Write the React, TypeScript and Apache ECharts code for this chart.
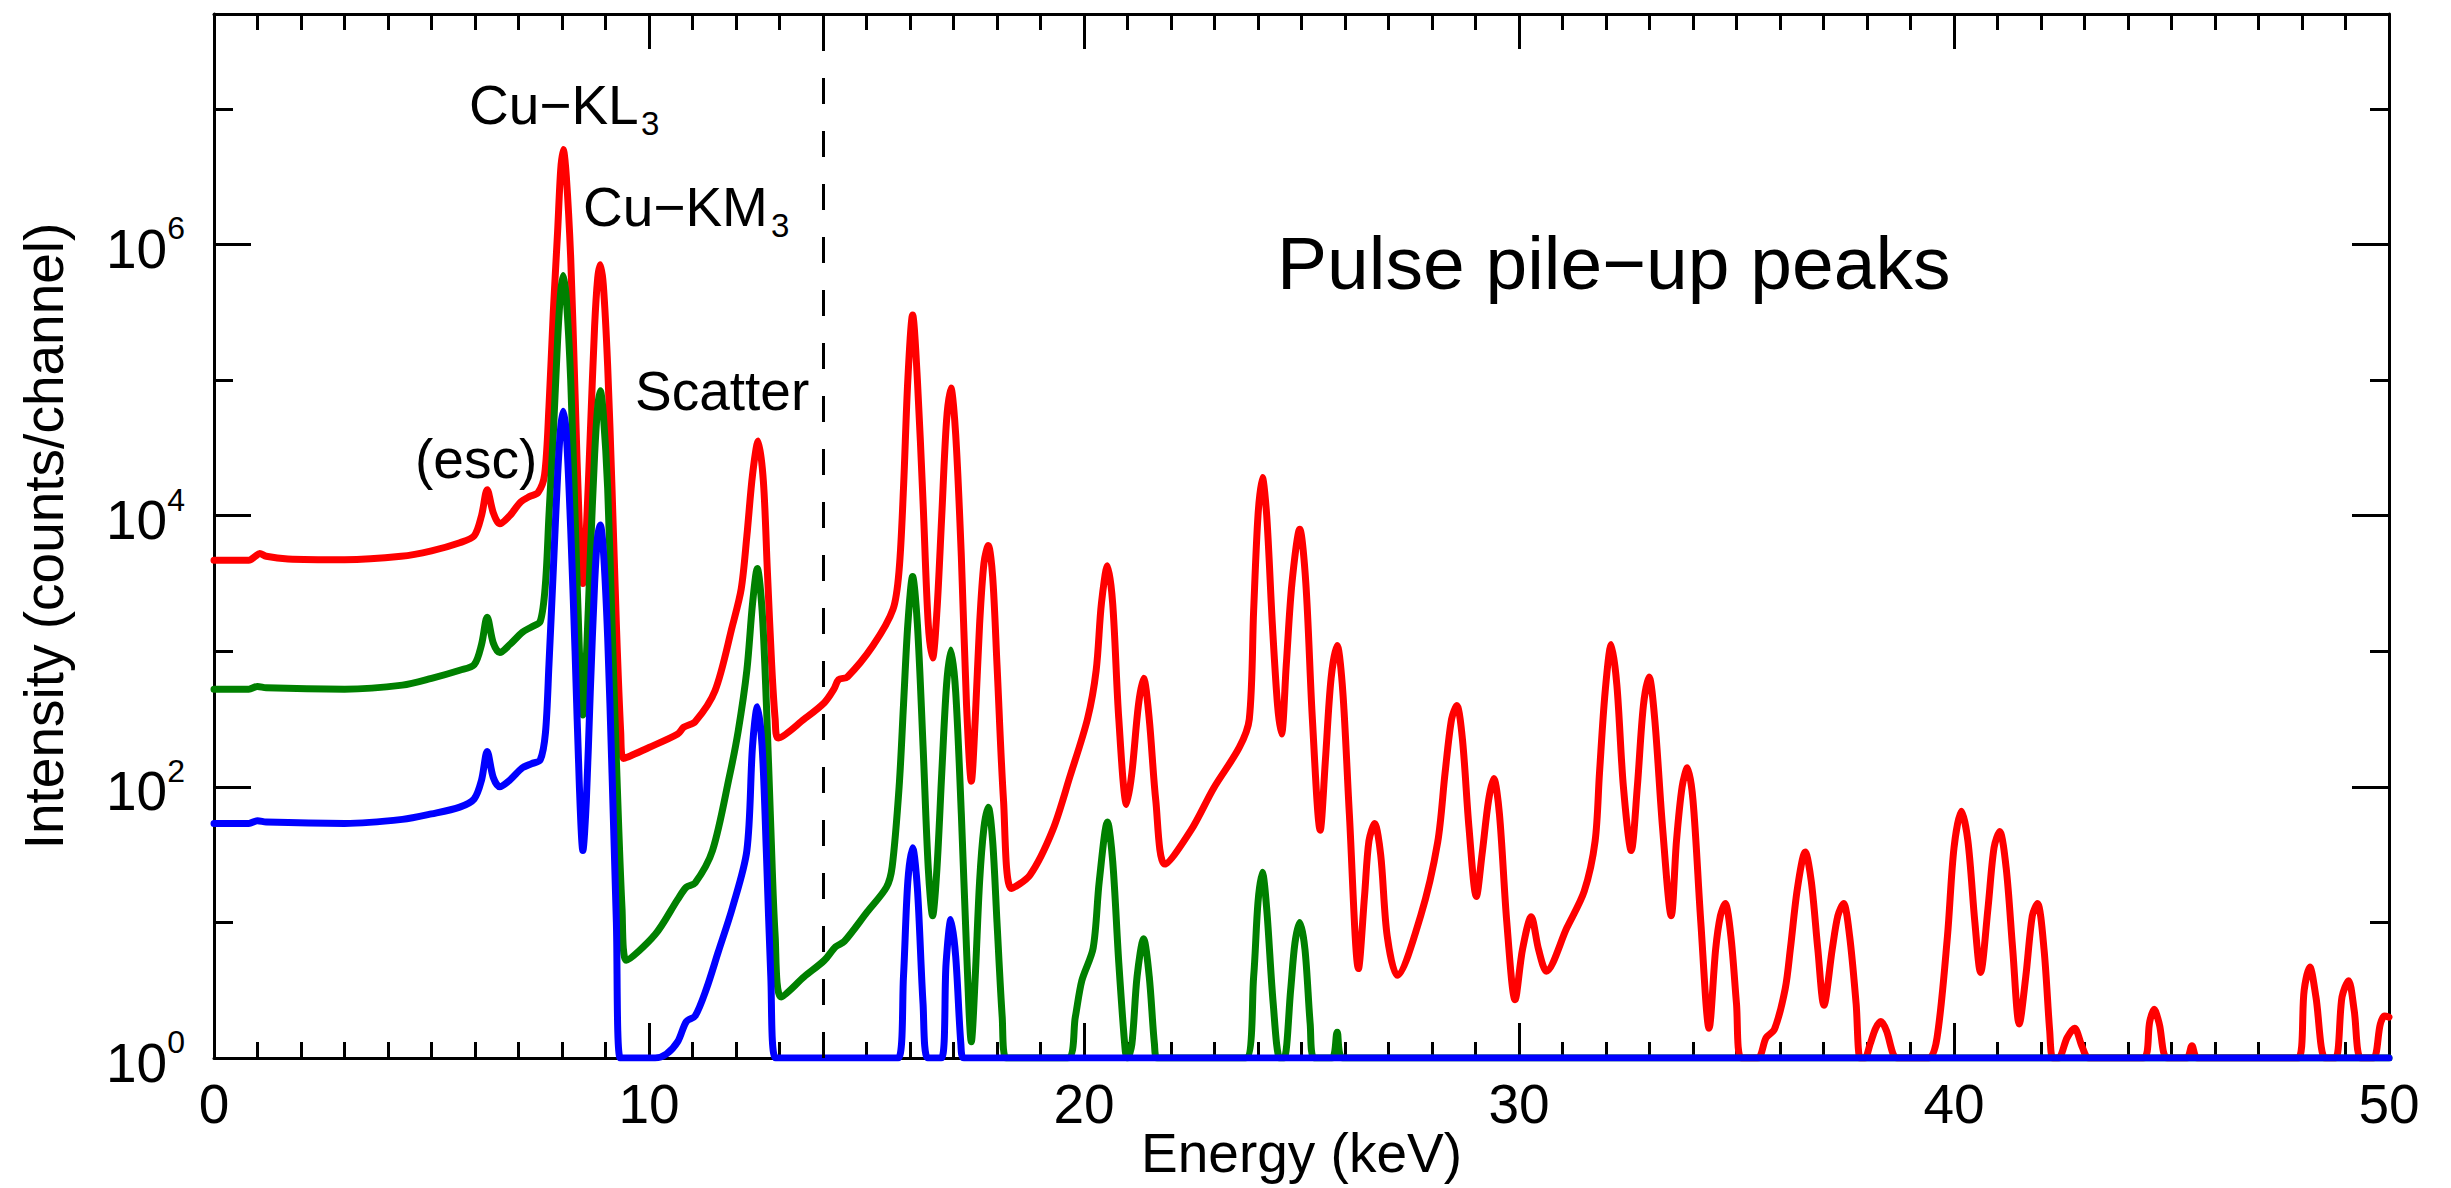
import React, { useEffect, useRef } from 'react';
import * as echarts from 'echarts';

// ---------- axes ----------
const X_MIN = 0;
const X_MAX = 50;
const X_STEP = 10;
const Y_MIN = 1;
const Y_MAX = 5e7;
const Y_LABEL_EXPONENTS = [0, 2, 4, 6];
const DASHED_LINE_KEV = 14;

// ---------- spectra: [energy keV, counts/channel] ----------
const redSpectrum: [number, number][] = [
  [0, 4680], [0.8, 4680], [0.95, 5010], [1.05, 5250], [1.2, 5010], [1.7, 4790], [3.0, 4730], [4.3, 5010],
  [5.0, 5500], [5.65, 6310], [5.98, 7080], [6.15, 10000], [6.28, 15500], [6.42, 10500], [6.57, 8710],
  [6.8, 10000], [7.05, 12600], [7.25, 13800], [7.45, 14800], [7.6, 20000], [7.7, 63100], [7.8, 316000],
  [7.9, 1.26e6], [7.97, 3.55e6], [8.03, 5.0e6], [8.1, 3.16e6], [8.2, 7.94e5], [8.3, 7.94e4], [8.4, 7940],
  [8.48, 3160], [8.56, 7940], [8.65, 39800], [8.75, 251000], [8.82, 562000], [8.88, 708000], [8.95, 501000],
  [9.05, 126000], [9.15, 15800], [9.25, 1580], [9.35, 251], [9.41, 162], [10.0, 195], [10.66, 245],
  [10.8, 275], [11.06, 302], [11.52, 513], [11.92, 1550], [12.12, 2880], [12.25, 7080], [12.38, 20000],
  [12.51, 35500], [12.63, 17800], [12.72, 3980], [12.82, 794], [12.9, 316], [12.97, 229], [13.57, 316],
  [14.03, 417], [14.25, 525], [14.36, 617], [14.56, 646], [15.15, 1100], [15.61, 2040], [15.75, 3980],
  [15.85, 15800], [15.95, 100000], [16.06, 302000], [16.17, 100000], [16.3, 12600], [16.42, 1580],
  [16.52, 891], [16.62, 2000], [16.73, 10000], [16.84, 50100], [16.94, 87100], [17.05, 39800],
  [17.18, 5010], [17.3, 398], [17.41, 110], [17.5, 316], [17.6, 1580], [17.7, 4470], [17.8, 6030],
  [17.9, 3550], [18.0, 794], [18.15, 79.4], [18.33, 17.8], [18.76, 22.4], [19.28, 47.9], [19.68, 120],
  [20.08, 316], [20.28, 724], [20.4, 2240], [20.54, 4270], [20.66, 2240], [20.8, 316], [20.98, 74.1],
  [21.1, 126], [21.25, 398], [21.37, 631], [21.5, 316], [21.65, 79.4], [21.86, 26.9], [22.46, 47.9],
  [22.98, 97.7], [23.57, 195], [23.8, 316], [23.9, 2000], [24.0, 10000], [24.1, 19100], [24.2, 10000],
  [24.33, 1580], [24.45, 398], [24.54, 245], [24.65, 794], [24.78, 3160], [24.96, 7940], [25.1, 3160],
  [25.25, 316], [25.43, 47.9], [25.55, 158], [25.68, 631], [25.82, 1100], [25.95, 501], [26.1, 63.1],
  [26.31, 4.57], [26.45, 15.8], [26.55, 39.8], [26.68, 53.7], [26.82, 31.6], [26.97, 7.94], [27.2, 4.07],
  [27.74, 11.2], [28.13, 38.9], [28.3, 126], [28.45, 316], [28.57, 398], [28.7, 224], [28.85, 50.1],
  [29.02, 15.5], [29.15, 31.6], [29.3, 79.4], [29.42, 115], [29.55, 63.1], [29.72, 10], [29.91, 2.69],
  [30.08, 6.31], [30.28, 11.0], [30.45, 6.31], [30.63, 4.37], [31.1, 9.12], [31.5, 17.0], [31.75, 39.8],
  [31.85, 126], [31.98, 501], [32.12, 1120], [32.25, 562], [32.4, 100], [32.58, 33.9], [32.72, 100],
  [32.86, 398], [32.99, 646], [33.12, 316], [33.3, 50.1], [33.5, 11.2], [33.62, 39.8], [33.75, 100],
  [33.87, 138], [34.0, 79.4], [34.18, 10], [34.37, 1.66], [34.52, 6.31], [34.63, 11.2], [34.74, 13.8],
  [34.87, 7.94], [35.0, 2.51], [35.11, 1], [35.49, 1], [35.68, 1.41], [35.87, 1.62], [36.12, 3.24],
  [36.24, 6.46], [36.4, 17.8], [36.58, 33.1], [36.72, 20.0], [36.87, 6.31], [37.01, 2.45], [37.2, 6.31],
  [37.33, 11.2], [37.46, 13.8], [37.6, 7.94], [37.75, 2.51], [37.84, 1], [37.95, 1], [38.07, 1.26],
  [38.2, 1.66], [38.32, 1.86], [38.45, 1.58], [38.6, 1.07], [38.69, 1], [39.42, 1], [39.61, 1.41],
  [39.85, 7.94], [40.0, 35.5], [40.17, 66.1], [40.32, 39.8], [40.48, 10], [40.61, 4.27], [40.78, 12.6],
  [40.92, 35.5], [41.05, 46.8], [41.2, 25.1], [41.35, 6.31], [41.5, 1.78], [41.65, 3.98], [41.8, 11.2],
  [41.92, 13.8], [42.07, 6.31], [42.2, 1.58], [42.27, 1], [42.4, 1], [42.6, 1.41], [42.77, 1.66],
  [42.95, 1.2], [43.1, 1], [44.35, 1], [44.5, 1.86], [44.6, 2.29], [44.72, 1.78], [44.9, 1], [45.35, 1],
  [45.47, 1.23], [45.6, 1], [47.91, 1], [48.05, 3.16], [48.18, 4.68], [48.32, 2.82], [48.53, 1],
  [48.77, 1], [48.92, 2.82], [49.07, 3.72], [49.2, 2.24], [49.35, 1], [49.64, 1], [49.8, 1.78],
  [49.9, 2.04], [50.0, 2.0],
];

const greenSpectrum: [number, number][] = [
  [0, 525], [0.8, 525], [1.0, 550], [1.2, 537], [3.0, 525], [4.33, 562], [5.0, 631], [5.65, 724],
  [5.98, 794], [6.15, 1120], [6.28, 1780], [6.42, 1150], [6.57, 977], [6.8, 1120], [7.09, 1380],
  [7.3, 1510], [7.5, 1660], [7.62, 3160], [7.7, 10000], [7.8, 39800], [7.9, 200000], [7.97, 447000],
  [8.03, 589000], [8.1, 398000], [8.2, 100000], [8.3, 10000], [8.4, 1000], [8.48, 339], [8.56, 891],
  [8.65, 5010], [8.75, 28200], [8.82, 63100], [8.88, 83200], [8.95, 56200], [9.05, 15800], [9.15, 1580],
  [9.25, 158], [9.38, 12.6], [9.48, 5.25], [10.14, 8.13], [10.66, 14.8], [10.86, 18.2], [11.06, 19.5],
  [11.46, 33.9], [11.85, 120], [12.05, 257], [12.25, 724], [12.38, 2240], [12.49, 4070], [12.6, 2000],
  [12.7, 398], [12.8, 50.1], [12.9, 7.94], [13.04, 2.82], [13.57, 3.98], [14.03, 5.25], [14.29, 6.61],
  [14.49, 7.24], [15.02, 12.0], [15.46, 18.2], [15.59, 25.7], [15.75, 100], [15.85, 398], [15.95, 1580],
  [16.06, 3550], [16.17, 1580], [16.3, 200], [16.42, 25.1], [16.52, 11.2], [16.62, 25.1], [16.73, 126],
  [16.84, 562], [16.94, 1020], [17.05, 501], [17.18, 63.1], [17.3, 6.31], [17.41, 1.32], [17.5, 3.98],
  [17.6, 20.0], [17.7, 50.1], [17.8, 70.8], [17.9, 39.8], [18.0, 10], [18.12, 2.0], [18.21, 1],
  [19.62, 1], [19.8, 2.0], [19.95, 3.72], [20.21, 6.46], [20.35, 20.0], [20.54, 55.0], [20.66, 28.2],
  [20.8, 5.01], [20.95, 1.12], [21.0, 1], [21.1, 1.26], [21.22, 3.98], [21.37, 7.59], [21.5, 3.98],
  [21.62, 1.26], [21.69, 1], [23.71, 1], [23.9, 3.98], [24.0, 14.1], [24.1, 23.4], [24.2, 12.6],
  [24.35, 2.51], [24.5, 1], [24.6, 1], [24.75, 3.16], [24.85, 7.08], [24.96, 10], [25.08, 6.31],
  [25.2, 1.78], [25.29, 1], [25.7, 1], [25.82, 1.55], [25.95, 1], [50, 1],
];

const blueSpectrum: [number, number][] = [
  [0, 53.7], [0.8, 53.7], [1.0, 56.2], [1.2, 55.0], [3.0, 53.7], [4.33, 57.5], [5.0, 63.1], [5.65, 70.8],
  [5.98, 81.3], [6.15, 112], [6.28, 182], [6.42, 117], [6.57, 100], [6.8, 112], [7.09, 138], [7.3, 148],
  [7.5, 158], [7.62, 251], [7.7, 794], [7.8, 3980], [7.9, 20000], [7.97, 44700], [8.03, 58900],
  [8.1, 39800], [8.2, 7940], [8.3, 1000], [8.4, 100], [8.48, 33.9], [8.56, 79.4], [8.65, 501],
  [8.75, 3160], [8.82, 7080], [8.88, 8510], [8.95, 5620], [9.05, 1260], [9.15, 126], [9.25, 10],
  [9.34, 1], [10.14, 1], [10.4, 1.07], [10.66, 1.32], [10.86, 1.86], [11.06, 2.04], [11.32, 3.24],
  [11.59, 6.03], [11.92, 12.9], [12.25, 33.9], [12.38, 200], [12.49, 389], [12.6, 200], [12.7, 31.6],
  [12.8, 3.98], [12.91, 1], [15.73, 1], [15.85, 3.98], [15.95, 20.0], [16.06, 35.5], [16.17, 17.8],
  [16.3, 2.51], [16.41, 1], [16.72, 1], [16.83, 5.01], [16.94, 10.5], [17.05, 5.62], [17.17, 1.26],
  [17.24, 1], [50, 1],
];

const SERIES_COLORS = ['#ff0000', '#008000', '#0000ff'];

const FONT = '"Liberation Sans", Arial, Helvetica, sans-serif';
const BLACK = '#000000';

const axisLineStyle = { color: BLACK, width: 3 };

function yLabel(v: number): string {
  const lg = Math.log10(v);
  const e = Math.round(lg);
  if (Math.abs(lg - e) > 1e-6 || !Y_LABEL_EXPONENTS.includes(e)) return '';
  return `{b|10}{s|${e}}`;
}

function textEl(text: string, x: number, y: number, size: number) {
  return {
    type: 'text',
    x,
    y,
    silent: true,
    z: 100,
    style: {
      text,
      fill: BLACK,
      fontSize: size,
      fontFamily: FONT,
      align: 'left',
      verticalAlign: 'middle',
    },
  };
}

export default function App() {
  const ref = useRef<HTMLDivElement>(null);

  useEffect(() => {
    if (!ref.current) return;
    const chart = echarts.init(ref.current, undefined, { renderer: 'svg' });

    const logTickAxis = (position: 'left' | 'right', withLabels: boolean) => ({
      type: 'log',
      logBase: 10,
      min: Y_MIN,
      max: Y_MAX,
      position,
      axisLine: { show: true, onZero: false, lineStyle: axisLineStyle },
      axisTick: { show: true, inside: true, length: 19, lineStyle: axisLineStyle },
      axisLabel: withLabels
        ? {
            show: true,
            margin: 29,
            formatter: yLabel,
            rich: {
              b: { fontSize: 55, fontFamily: FONT, color: BLACK, verticalAlign: 'bottom', padding: [9, 0, 0, 0] },
              s: { fontSize: 32, fontFamily: FONT, color: BLACK, verticalAlign: 'top' },
            },
          }
        : { show: false },
      splitLine: { show: false },
      ...(withLabels
        ? {
            name: 'Intensity (counts/channel)',
            nameLocation: 'middle',
            nameGap: 143,
            nameMoveOverlap: false,
            nameTextStyle: { fontSize: 55, fontFamily: FONT, color: BLACK },
          }
        : {}),
    });

    const majorTickAxis = (position: 'left' | 'right') => ({
      type: 'value',
      min: 0,
      max: Math.log10(Y_MAX),
      interval: 2,
      position,
      axisLine: { show: false, onZero: false },
      axisTick: { show: true, inside: true, length: 37, lineStyle: axisLineStyle },
      axisLabel: { show: false },
      splitLine: { show: false },
    });

    const xAxisBase = (position: 'bottom' | 'top', withLabels: boolean) => ({
      type: 'value',
      min: X_MIN,
      max: X_MAX,
      interval: X_STEP,
      position,
      axisLine: { show: true, onZero: false, lineStyle: axisLineStyle },
      axisTick: { show: true, inside: true, length: 35, lineStyle: axisLineStyle },
      minorTick: { show: true, splitNumber: 10, length: 16, lineStyle: axisLineStyle },
      axisLabel: withLabels
        ? { show: true, fontSize: 55, fontFamily: FONT, color: BLACK, margin: 18 }
        : { show: false },
      splitLine: { show: false },
      minorSplitLine: { show: false },
      ...(withLabels
        ? {
            name: 'Energy (keV)',
            nameLocation: 'middle',
            nameGap: 67,
            nameMoveOverlap: false,
            nameTextStyle: { fontSize: 55, fontFamily: FONT, color: BLACK },
          }
        : {}),
    });

    const spectra = [redSpectrum, greenSpectrum, blueSpectrum];

    const option: any = {
      animation: false,
      backgroundColor: '#ffffff',
      textStyle: { fontFamily: FONT },
      grid: {
        left: 214,
        right: 62,
        top: 14,
        bottom: 130,
        containLabel: false,
        outerBoundsMode: 'none',
      },
      xAxis: [xAxisBase('bottom', true), xAxisBase('top', false)],
      yAxis: [
        logTickAxis('left', true),
        majorTickAxis('left'),
        logTickAxis('right', false),
        majorTickAxis('right'),
      ],
      series: spectra.map((data, i) => ({
        type: 'line',
        data,
        xAxisIndex: 0,
        yAxisIndex: 0,
        showSymbol: false,
        symbol: 'none',
        smooth: 0.3,
        silent: true,
        z: 2 + i,
        lineStyle: { color: SERIES_COLORS[i], width: 7, cap: 'round', join: 'round' },
        itemStyle: { color: SERIES_COLORS[i] },
        emphasis: { disabled: true },
        ...(i === 0
          ? {
              markLine: {
                silent: true,
                symbol: ['none', 'none'],
                label: { show: false },
                lineStyle: { color: BLACK, width: 3, type: [26, 27] },
                data: [{ xAxis: DASHED_LINE_KEV }],
              },
            }
          : {}),
      })),
      graphic: [
        textEl('Cu\u2212KL', 469, 105, 55),
        textEl('3', 641, 123, 33),
        textEl('Cu\u2212KM', 583, 207, 55),
        textEl('3', 771, 225, 33),
        textEl('Scatter', 635, 391, 55),
        textEl('(esc)', 415, 459, 55),
        textEl('Pulse pile\u2212up peaks', 1277, 263, 75),
      ],
    };

    chart.setOption(option);
    return () => chart.dispose();
  }, []);

  return (
    <div
      ref={ref}
      style={{ position: 'absolute', left: 0, top: 0, width: 2451, height: 1188, background: '#fff' }}
    />
  );
}
